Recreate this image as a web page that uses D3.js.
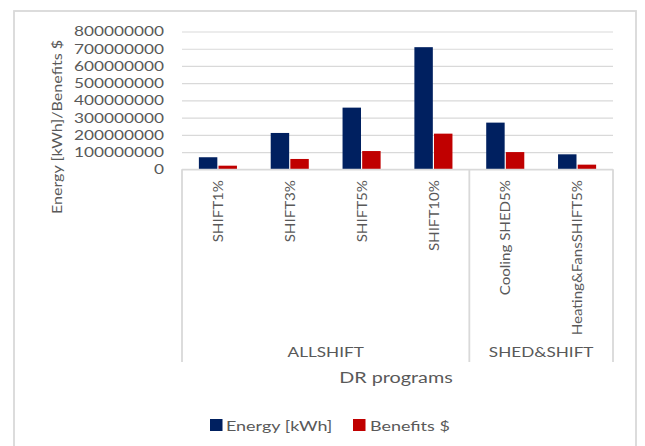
<!DOCTYPE html>
<html>
<head>
<meta charset="utf-8">
<script src="https://cdn.jsdelivr.net/npm/d3@7"></script>
<style>
  html, body { margin: 0; padding: 0; background: #fff; }
  svg { display: block; }
  text { font-family: Lato, "Open Sans", sans-serif; fill: #595959; }
</style>
</head>
<body>
<div id="chart"></div>
<script>
// DR program results: energy shifted and resulting benefits
const categories = ["SHIFT1%", "SHIFT3%", "SHIFT5%", "SHIFT10%", "Cooling SHED5%", "Heating&FansSHIFT5%"];
const groupNames = ["ALLSHIFT", "SHED&SHIFT"];
const groupOf = ["ALLSHIFT", "ALLSHIFT", "ALLSHIFT", "ALLSHIFT", "SHED&SHIFT", "SHED&SHIFT"];
const energy = [70000000, 211000000, 358000000, 709000000, 271000000, 87000000];
const benefits = [21000000, 60000000, 106000000, 207000000, 100000000, 27000000];
const seriesNames = ["Energy [kWh]", "Benefits $"];
const seriesColors = ["#002060", "#c00000"];
const yTicks = [0, 100000000, 200000000, 300000000, 400000000, 500000000, 600000000, 700000000, 800000000];

const W = 645, H = 446;
const plot = { left: 182, right: 613, top: 31.5, bottom: 169.3 };
const catAxisBottom = 362;
const gridColor = "#d9d9d9";

const svg = d3.select("#chart").append("svg").attr("width", W).attr("height", H);

// chart frame
svg.append("rect")
  .attr("x", 14).attr("y", 11).attr("width", 622).attr("height", 460)
  .attr("fill", "#fff").attr("stroke", gridColor).attr("stroke-width", 1.8);

const x = d3.scaleBand().domain(categories).range([plot.left, plot.right])
  .paddingInner(0.47).paddingOuter(0.235);
const xs = d3.scaleBand().domain(seriesNames).range([0, x.bandwidth()]).paddingInner(0.06);
const y = d3.scaleLinear().domain([0, 800000000]).range([plot.bottom, plot.top]);

// stretched text helper: scale along the reading direction
function label(g, txt, px, py, opts) {
  const o = Object.assign({ size: 13, rot: 0, sx: 1.3, anchor: "middle", base: "central" }, opts || {});
  return g.append("text")
    .attr("transform", `translate(${px},${py}) rotate(${o.rot}) scale(${o.sx},1)`)
    .attr("text-anchor", o.anchor)
    .attr("dominant-baseline", o.base)
    .style("font-size", o.size + "px")
    .text(txt);
}

// gridlines
const yAxis = d3.axisLeft(y).tickValues(yTicks).tickSize(-(plot.right - plot.left)).tickFormat(d3.format("d"));
const ya = svg.append("g").attr("transform", `translate(${plot.left},0)`).call(yAxis);
ya.select(".domain").remove();
ya.selectAll(".tick line").attr("stroke", gridColor).attr("stroke-width", 1.2);
ya.selectAll(".tick text").remove();
ya.selectAll(".tick").each(function(d) {
  label(svg, d3.format("d")(d), 164, y(d), { anchor: "end", size: 12.5, sx: 1.38 });
});

// bars
const rows = categories.map((c, i) => ({ cat: c, vals: [energy[i], benefits[i]] }));
const gBars = svg.append("g");
rows.forEach(r => {
  r.vals.forEach((v, k) => {
    gBars.append("rect")
      .attr("x", x(r.cat) + xs(seriesNames[k]))
      .attr("y", y(v))
      .attr("width", xs.bandwidth())
      .attr("height", y(0) - y(v))
      .attr("fill", seriesColors[k]);
  });
});

// category axis box
const step = x.step();
const axisG = svg.append("g").attr("stroke", gridColor).attr("stroke-width", 1.8);
axisG.append("line").attr("x1", plot.left).attr("x2", plot.right).attr("y1", y(0)).attr("y2", y(0)).attr("stroke-width", 1.3);
const groupBounds = [];
groupNames.forEach(gn => {
  const idx = categories.map((c, i) => i).filter(i => groupOf[i] === gn);
  const x0 = x(categories[idx[0]]) - x.paddingInner() * step / 2;
  const x1 = x(categories[idx[idx.length - 1]]) + x.bandwidth() + x.paddingInner() * step / 2;
  groupBounds.push([gn, Math.max(x0, plot.left), Math.min(x1, plot.right)]);
});
const edges = [plot.left].concat(groupBounds.map(b => b[2]));
edges.forEach(ex => {
  axisG.append("line").attr("x1", ex).attr("x2", ex).attr("y1", y(0)).attr("y2", catAxisBottom);
});

// category labels
categories.forEach(c => {
  label(svg, c, x(c) + x.bandwidth() / 2, 180, { rot: -90, anchor: "end", size: 13.5, sx: 1.12 });
});

// group labels
groupBounds.forEach(b => {
  label(svg, b[0], (b[1] + b[2]) / 2, 352, { size: 13, sx: 1.32 });
});

// axis titles
label(svg, "DR programs", 396, 377, { size: 15, sx: 1.32 });
label(svg, "Energy [kWh]/Benefits $", 56, 127, { rot: -90, size: 14, sx: 1.15 });

// legend
const legendItems = [[210, 226], [353, 370]];
seriesNames.forEach((s, k) => {
  svg.append("rect").attr("x", legendItems[k][0]).attr("y", 419).attr("width", 12.5).attr("height", 12).attr("fill", seriesColors[k]);
  label(svg, s, legendItems[k][1], 425, { anchor: "start", size: 13.5, sx: 1.33 });
});
</script>
</body>
</html>
